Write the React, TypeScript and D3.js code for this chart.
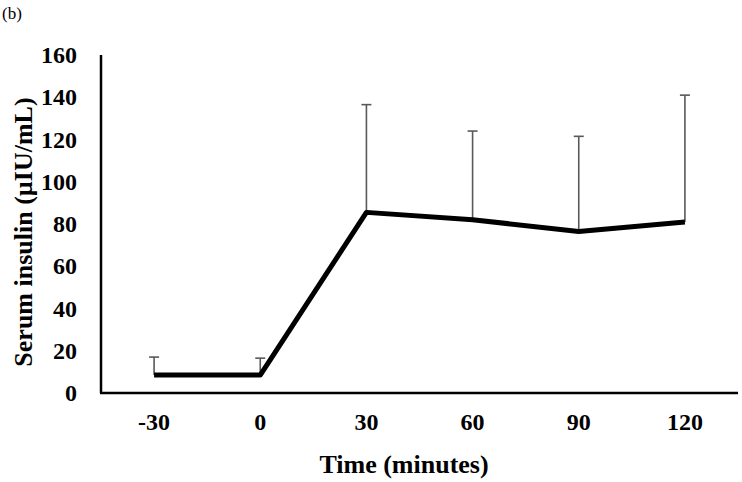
import React, { useRef, useEffect } from "react";
import * as d3 from "d3";

const timePoints = ["-30", "0", "30", "60", "90", "120"];
const meanInsulin = [8.5, 8.5, 85.5, 82, 76.5, 81];
const errorUpper = [17, 16.5, 136.5, 124, 121.5, 141];
const yTicks = [0, 20, 40, 60, 80, 100, 120, 140, 160];

const width = 742;
const height = 482;

const App = () => {
  const ref = useRef(null);

  useEffect(() => {
    if (!ref.current) return;
    const svg = d3.select(ref.current);
    svg.selectAll("*").remove();

    const x = d3.scaleBand().domain(timePoints).range([101, 738]);
    const y = d3.scaleLinear().domain([0, 160]).range([393, 55]);
    const cx = (i: number) => (x(timePoints[i]) ?? 0) + x.bandwidth() / 2;

    const font = "'Liberation Serif', 'Times New Roman', serif";

    // panel label
    svg
      .append("text")
      .attr("x", 2)
      .attr("y", 19)
      .attr("font-family", font)
      .attr("font-size", 17)
      .text("(b)");

    // axes lines
    svg
      .append("line")
      .attr("x1", 101)
      .attr("x2", 101)
      .attr("y1", y(160))
      .attr("y2", y(0))
      .attr("stroke", "#000")
      .attr("stroke-width", 2.5);
    svg
      .append("line")
      .attr("x1", 100)
      .attr("x2", 738)
      .attr("y1", y(0))
      .attr("y2", y(0))
      .attr("stroke", "#000")
      .attr("stroke-width", 2.5);

    // y tick labels
    svg
      .selectAll(".ytick")
      .data(yTicks)
      .enter()
      .append("text")
      .attr("x", 77)
      .attr("y", (d) => y(d) + 8)
      .attr("text-anchor", "end")
      .attr("font-family", font)
      .attr("font-weight", "bold")
      .attr("font-size", 24)
      .text((d) => d);

    // x tick labels
    svg
      .selectAll(".xtick")
      .data(timePoints)
      .enter()
      .append("text")
      .attr("x", (d, i) => cx(i))
      .attr("y", 430)
      .attr("text-anchor", "middle")
      .attr("font-family", font)
      .attr("font-weight", "bold")
      .attr("font-size", 24)
      .text((d) => d);

    // axis titles
    svg
      .append("text")
      .attr("x", 404)
      .attr("y", 473)
      .attr("text-anchor", "middle")
      .attr("font-family", font)
      .attr("font-weight", "bold")
      .attr("font-size", 26)
      .text("Time (minutes)");
    svg
      .append("text")
      .attr("transform", "translate(32,232) rotate(-90)")
      .attr("text-anchor", "middle")
      .attr("font-family", font)
      .attr("font-weight", "bold")
      .attr("font-size", 26)
      .text("Serum insulin (µIU/mL)");

    // error bars (upper only)
    const eb = svg
      .selectAll(".err")
      .data(timePoints)
      .enter()
      .append("g")
      .attr("stroke", "#595959")
      .attr("stroke-width", 1.6);
    eb.append("line")
      .attr("x1", (d, i) => cx(i))
      .attr("x2", (d, i) => cx(i))
      .attr("y1", (d, i) => y(meanInsulin[i]))
      .attr("y2", (d, i) => y(errorUpper[i]));
    eb.append("line")
      .attr("x1", (d, i) => cx(i) - 5)
      .attr("x2", (d, i) => cx(i) + 5)
      .attr("y1", (d, i) => y(errorUpper[i]))
      .attr("y2", (d, i) => y(errorUpper[i]));

    // mean line
    const line = d3
      .line<number>()
      .x((d, i) => cx(i))
      .y((d) => y(d));
    svg
      .append("path")
      .datum(meanInsulin)
      .attr("d", line)
      .attr("fill", "none")
      .attr("stroke", "#000")
      .attr("stroke-width", 5)
      .attr("stroke-linejoin", "round");
  }, []);

  return (
    <svg
      ref={ref}
      width={width}
      height={height}
      style={{ position: "absolute", left: 0, top: 0, background: "#fff" }}
    />
  );
};

export default App;
